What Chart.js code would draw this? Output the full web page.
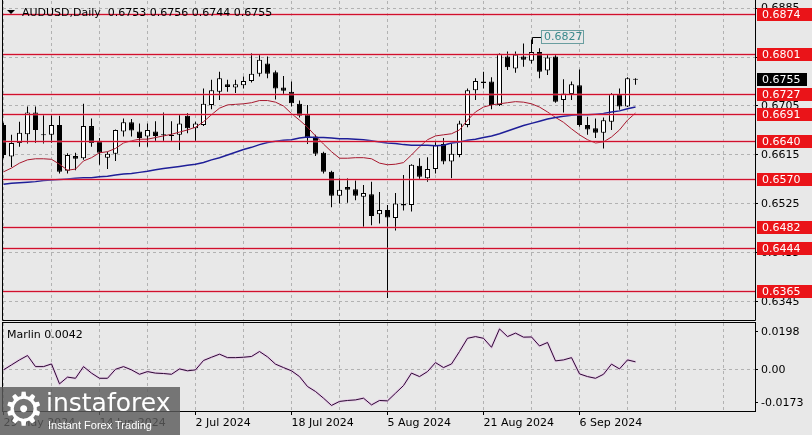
<!DOCTYPE html>
<html>
<head>
<meta charset="utf-8">
<script src="https://cdn.jsdelivr.net/npm/chart.js@4/dist/chart.umd.min.js"></script>
<style>
  html, body { margin: 0; padding: 0; background: #e8e8e8; }
  body { width: 812px; height: 435px; position: relative; overflow: hidden; font-family: "DejaVu Sans", sans-serif; }
  #priceChart { position: absolute; left: 0; top: 0; }
  #marlinChart { position: absolute; left: 0; top: 321px; }
  #logo { position: absolute; left: 0; top: 387px; width: 180px; height: 48px; background: rgba(92, 92, 92, 0.82); color: #fff; }
  #logo .gear { position: absolute; left: 3px; top: -4px; font: 46px/52px "DejaVu Sans"; }
  #logo .brand { position: absolute; left: 46px; top: 3px; font: 25px/25px "DejaVu Sans"; }
  #logo .tag { position: absolute; left: 48px; top: 32px; font: 11px/13px "Liberation Sans"; }
</style>
</head>
<body>
<canvas id="priceChart" width="812" height="321"></canvas>
<canvas id="marlinChart" width="812" height="114"></canvas>
<div id="logo"><span class="gear">⚙</span><span class="brand">instaforex</span><span class="tag">Instant Forex Trading</span></div>
<script>
const symbolTitle = 'AUDUSD,Daily';

const dates = ['29 May 2024','30 May 2024','31 May 2024','3 Jun 2024','4 Jun 2024','5 Jun 2024','6 Jun 2024','7 Jun 2024',
  '10 Jun 2024','11 Jun 2024','12 Jun 2024','13 Jun 2024','14 Jun 2024','17 Jun 2024','18 Jun 2024','19 Jun 2024','20 Jun 2024',
  '21 Jun 2024','24 Jun 2024','25 Jun 2024','26 Jun 2024','27 Jun 2024','28 Jun 2024','1 Jul 2024','2 Jul 2024','3 Jul 2024',
  '4 Jul 2024','5 Jul 2024','8 Jul 2024','9 Jul 2024','10 Jul 2024','11 Jul 2024','12 Jul 2024','15 Jul 2024','16 Jul 2024',
  '17 Jul 2024','18 Jul 2024','19 Jul 2024','22 Jul 2024','23 Jul 2024','24 Jul 2024','25 Jul 2024','26 Jul 2024','29 Jul 2024',
  '30 Jul 2024','31 Jul 2024','1 Aug 2024','2 Aug 2024','5 Aug 2024','6 Aug 2024','7 Aug 2024','8 Aug 2024','9 Aug 2024',
  '12 Aug 2024','13 Aug 2024','14 Aug 2024','15 Aug 2024','16 Aug 2024','19 Aug 2024','20 Aug 2024','21 Aug 2024','22 Aug 2024',
  '23 Aug 2024','26 Aug 2024','27 Aug 2024','28 Aug 2024','29 Aug 2024','30 Aug 2024','2 Sep 2024','3 Sep 2024','4 Sep 2024',
  '5 Sep 2024','6 Sep 2024','9 Sep 2024','10 Sep 2024','11 Sep 2024','12 Sep 2024','13 Sep 2024','16 Sep 2024','17 Sep 2024'];

const opens = [0.6670,0.6612,0.6637,0.6653,0.6693,0.6653,0.6652,0.6670,0.6586,0.6613,
  0.6609,0.6668,0.6641,0.6610,0.6617,0.6658,0.6675,0.6658,0.6649,0.6658,
  0.6652,0.6651,0.6652,0.6687,0.6664,0.6670,0.6707,0.6731,0.6745,0.6739,
  0.6743,0.6751,0.6764,0.6783,0.6767,0.6739,0.6731,0.6709,0.6690,0.6649,
  0.6619,0.6584,0.6540,0.6556,0.6552,0.6538,0.6543,0.6506,0.6514,0.6499,
  0.6525,0.6523,0.6595,0.6572,0.6589,0.6635,0.6603,0.6615,0.6670,0.6734,
  0.6750,0.6750,0.6707,0.6796,0.6774,0.6796,0.6788,0.6804,0.6770,0.6796,
  0.6716,0.6727,0.6743,0.6670,0.6664,0.6656,0.6676,0.6727,0.6704,0.6753];
const highs = [0.6674,0.6652,0.6676,0.6704,0.6704,0.6688,0.6688,0.6687,0.6618,0.6619,
  0.6709,0.6682,0.6646,0.6621,0.6662,0.6682,0.6681,0.6673,0.6673,0.6677,
  0.6693,0.6677,0.6690,0.6692,0.6676,0.6737,0.6753,0.6768,0.6753,0.6753,
  0.6759,0.6802,0.6799,0.6796,0.6770,0.6760,0.6750,0.6715,0.6707,0.6652,
  0.6621,0.6586,0.6572,0.6572,0.6568,0.6560,0.6566,0.6547,0.6523,0.6545,
  0.6578,0.6598,0.6609,0.6611,0.6639,0.6646,0.6636,0.6678,0.6737,0.6756,
  0.6768,0.6758,0.6802,0.6805,0.6805,0.6820,0.6827,0.6811,0.6799,0.6799,
  0.6754,0.6750,0.6772,0.6685,0.6682,0.6684,0.6729,0.6737,0.6758,0.6756];
const lows = [0.6609,0.6593,0.6630,0.6636,0.6637,0.6636,0.6637,0.6581,0.6581,0.6587,
  0.6606,0.6630,0.6597,0.6589,0.6604,0.6649,0.6649,0.6630,0.6630,0.6639,
  0.6639,0.6639,0.6624,0.6655,0.6639,0.6668,0.6699,0.6716,0.6731,0.6729,
  0.6737,0.6748,0.6759,0.6756,0.6717,0.6725,0.6704,0.6684,0.6635,0.6613,
  0.6581,0.6519,0.6526,0.6527,0.6532,0.6483,0.6486,0.6489,0.6352,0.6476,
  0.6513,0.6511,0.6570,0.6566,0.6581,0.6598,0.6572,0.6611,0.6666,0.6716,
  0.6737,0.6699,0.6705,0.6771,0.6766,0.6777,0.6783,0.6756,0.6762,0.6711,
  0.6693,0.6716,0.6667,0.6652,0.6646,0.6627,0.6661,0.6698,0.6703,0.6744];
const closes = [0.6615,0.6637,0.6656,0.6693,0.6661,0.6651,0.6670,0.6584,0.6615,0.6608,
  0.6668,0.6637,0.6619,0.6617,0.6661,0.6675,0.6660,0.6646,0.6661,0.6650,
  0.6651,0.6650,0.6673,0.6664,0.6673,0.6709,0.6734,0.6756,0.6740,0.6745,
  0.6751,0.6764,0.6790,0.6764,0.6737,0.6733,0.6710,0.6687,0.6647,0.6617,
  0.6584,0.6540,0.6551,0.6551,0.6540,0.6545,0.6503,0.6514,0.6500,0.6526,
  0.6522,0.6597,0.6575,0.6589,0.6633,0.6603,0.6617,0.6673,0.6734,0.6751,
  0.6747,0.6707,0.6801,0.6776,0.6799,0.6790,0.6804,0.6768,0.6794,0.6713,
  0.6728,0.6745,0.6670,0.6662,0.6656,0.6679,0.6727,0.6704,0.6756,0.6755];

// moving averages as drawn on the chart
const maFast = [0.6584,0.6591,0.6600,0.6606,0.6608,0.6608,0.6607,0.6598,0.6587,0.6589,
  0.6604,0.6610,0.6619,0.6621,0.6627,0.6637,0.6641,0.6644,0.6644,0.6647,
  0.6650,0.6653,0.6657,0.6661,0.6666,0.6676,0.6689,0.6701,0.6707,0.6708,
  0.6709,0.6711,0.6715,0.6715,0.6712,0.6705,0.6691,0.6679,0.6666,0.6650,
  0.6635,0.6621,0.6609,0.6609,0.6610,0.6610,0.6608,0.6600,0.6597,0.6598,
  0.6601,0.6615,0.6630,0.6643,0.6650,0.6652,0.6654,0.6661,0.6679,0.6694,
  0.6703,0.6707,0.6709,0.6711,0.6713,0.6712,0.6709,0.6703,0.6694,0.6684,
  0.6675,0.6663,0.6652,0.6643,0.6637,0.6639,0.6648,0.6661,0.6679,0.6692];
const maSlow = [0.6561,0.6563,0.6564,0.6565,0.6566,0.6568,0.6569,0.6570,0.6571,0.6572,
  0.6573,0.6573,0.6575,0.6576,0.6578,0.6580,0.6581,0.6583,0.6585,0.6588,
  0.6590,0.6592,0.6594,0.6596,0.6598,0.6601,0.6606,0.6610,0.6615,0.6620,
  0.6625,0.6629,0.6634,0.6638,0.6640,0.6642,0.6643,0.6646,0.6648,0.6647,
  0.6647,0.6646,0.6645,0.6645,0.6644,0.6643,0.6641,0.6639,0.6637,0.6636,
  0.6634,0.6633,0.6633,0.6633,0.6632,0.6633,0.6637,0.6639,0.6642,0.6644,
  0.6647,0.6650,0.6654,0.6659,0.6664,0.6669,0.6673,0.6677,0.6681,0.6684,
  0.6686,0.6688,0.6689,0.6689,0.6690,0.6691,0.6694,0.6696,0.6700,0.6703];

const marlin = [0.0000,0.0026,0.0052,0.0075,0.0017,0.0017,0.0031,-0.0073,-0.0038,-0.0044,
  0.0017,-0.0017,-0.0044,-0.0044,0.0003,0.0017,0.0000,-0.0023,-0.0009,-0.0017,
  -0.0019,-0.0023,0.0005,-0.0005,0.0000,0.0049,0.0066,0.0082,0.0064,0.0064,
  0.0066,0.0070,0.0096,0.0068,0.0030,0.0012,-0.0005,-0.0035,-0.0087,-0.0113,
  -0.0148,-0.0186,-0.0165,-0.0160,-0.0157,-0.0148,-0.0183,-0.0160,-0.0162,-0.0122,
  -0.0082,-0.0017,-0.0035,-0.0009,0.0038,0.0012,0.0031,0.0096,0.0165,0.0174,
  0.0165,0.0118,0.0214,0.0174,0.0192,0.0171,0.0172,0.0125,0.0143,0.0047,
  0.0052,0.0064,-0.0021,-0.0035,-0.0044,-0.0023,0.0030,0.0005,0.0052,0.0042];

const levels = [0.6874, 0.6801, 0.6727, 0.6691, 0.6640, 0.6570, 0.6482, 0.6444, 0.6365];
const priceTicks = [0.6885, 0.6795, 0.6705, 0.6615, 0.6525, 0.6435, 0.6345];
const marlinTicks = [0.0198, 0, -0.0173];
const peakIndex = 66;
const peakValue = 0.6827;

const FONT = '"DejaVu Sans", sans-serif';
const GRID = '#b2b2b2';
const X_MIN = -0.0625, X_MAX = 93.9375;
const gridIdx = [];
for (let v = 0; v <= 90; v += 6) gridIdx.push(v);

function dateLabel(v) {
    return (v % 12 === 0 && v < dates.length) ? dates[v] : '';
}

Chart.defaults.font.family = FONT;
Chart.defaults.font.size = 11;
Chart.defaults.color = '#000';

const bodies = dates.map((d, i) => ({ x: i, y: [opens[i], closes[i]] }));
const wicks = dates.map((d, i) => ({ x: i, y: [lows[i], highs[i]] }));
const bodyColors = dates.map((d, i) => closes[i] >= opens[i] ? '#ffffff' : '#000000');

const priceOverlay = {
    id: 'priceOverlay',
    afterDatasetsDraw(chart) {
        const { ctx, chartArea: a, scales: { y } } = chart;
        ctx.save();
        levels.forEach(v => {
            const py = Math.round(y.getPixelForValue(v)) + 0.5;
            // soft halo then the line itself
            ctx.strokeStyle = 'rgba(236,120,140,0.35)';
            ctx.lineWidth = 3;
            ctx.beginPath();
            ctx.moveTo(a.left, py);
            ctx.lineTo(a.right, py);
            ctx.stroke();
            ctx.strokeStyle = '#d0102c';
            ctx.lineWidth = 1;
            ctx.beginPath();
            ctx.moveTo(a.left, py);
            ctx.lineTo(a.right, py);
            ctx.stroke();
        });
        ctx.restore();
    },
    afterDraw(chart) {
        const { ctx, scales: { x, y } } = chart;
        ctx.save();
        // frame
        ctx.strokeStyle = '#000';
        ctx.lineWidth = 1;
        ctx.beginPath();
        ctx.moveTo(2.5, 0); ctx.lineTo(2.5, 320.5);
        ctx.lineTo(755.5, 320.5); ctx.lineTo(755.5, 0);
        ctx.stroke();

        // level price boxes
        ctx.font = '11px ' + FONT;
        ctx.textBaseline = 'middle';
        ctx.textAlign = 'left';
        levels.forEach(v => {
            const py = Math.round(y.getPixelForValue(v));
            ctx.fillStyle = '#ea1419';
            ctx.fillRect(757, py - 6, 55, 13);
            ctx.fillStyle = '#ffffff';
            ctx.fillText(v.toFixed(4), 762, py + 1);
        });
        // current price box
        const last = closes[closes.length - 1];
        const cy = Math.round(y.getPixelForValue(last));
        ctx.fillStyle = '#000';
        ctx.fillRect(757, cy - 6, 50, 13);
        ctx.fillStyle = '#fff';
        ctx.fillText(last.toFixed(4), 762, cy + 1);

        // header
        ctx.fillStyle = '#000';
        ctx.beginPath();
        ctx.moveTo(7, 10); ctx.lineTo(15, 10); ctx.lineTo(11, 14); ctx.closePath();
        ctx.fill();
        const n = opens.length - 1;
        ctx.fillText(symbolTitle + '  ' + [opens[n], highs[n], lows[n], closes[n]].map(v => v.toFixed(4)).join(' '), 22, 13);

        // peak label
        const px = Math.round(x.getPixelForValue(peakIndex)) + 0.5;
        const py = Math.round(y.getPixelForValue(peakValue));
        ctx.strokeStyle = '#000';
        ctx.beginPath();
        ctx.moveTo(px, py + 4); ctx.lineTo(px, 37.5); ctx.lineTo(541.5, 37.5);
        ctx.stroke();
        ctx.strokeStyle = '#6a9ea0';
        ctx.strokeRect(541.5, 30.5, 42, 13);
        ctx.fillStyle = '#3a8a8c';
        ctx.fillText(peakValue.toFixed(4), 544, 37.5);
        ctx.restore();
    }
};

new Chart(document.getElementById('priceChart'), {
    type: 'bar',
    data: {
        datasets: [
            { type: 'line', data: maSlow.map((v, i) => ({ x: i, y: v })), borderColor: '#1e1e98', borderWidth: 1.5,
              pointRadius: 0, tension: 0, order: 0 },
            { type: 'line', data: maFast.map((v, i) => ({ x: i, y: v })), borderColor: '#a8182e', borderWidth: 1,
              pointRadius: 0, tension: 0, order: 1 },
            { type: 'bar', data: bodies, backgroundColor: bodyColors, borderColor: '#000', borderWidth: 1,
              borderSkipped: false, barThickness: 5, grouped: false, minBarLength: 1, inflateAmount: 0, order: 2 },
            { type: 'bar', data: wicks, backgroundColor: '#000', borderWidth: 0,
              barThickness: 1, grouped: false, inflateAmount: 0, order: 3 }
        ]
    },
    options: {
        responsive: false,
        animation: false,
        devicePixelRatio: 1,
        layout: { padding: { left: 3, top: 1, right: 0, bottom: 0 } },
        plugins: { legend: { display: false }, tooltip: { enabled: false } },
        scales: {
            x: {
                type: 'linear', min: X_MIN, max: X_MAX, offset: false,
                afterBuildTicks: s => { s.ticks = gridIdx.map(v => ({ value: v })); },
                grid: { color: GRID, drawTicks: false, offset: false },
                border: { display: false, dash: [3, 3] },
                ticks: { display: false },
                afterFit: s => { s.height = 0; s.paddingLeft = 0; s.paddingRight = 0; }
            },
            y: {
                type: 'linear', position: 'right', min: 0.63099, max: 0.68979, stacked: false,
                afterBuildTicks: s => { s.ticks = priceTicks.map(v => ({ value: v })); },
                grid: { color: GRID, drawTicks: true, tickLength: 3, tickColor: '#000', tickBorderDash: [] },
                border: { display: false, dash: [3, 3] },
                ticks: { padding: 3, color: '#000', font: { family: FONT, size: 11 }, callback: v => v.toFixed(4) },
                afterFit: s => { s.width = 57; s.paddingTop = 0; s.paddingBottom = 0; }
            }
        }
    },
    plugins: [priceOverlay]
});

const marlinOverlay = {
    id: 'marlinOverlay',
    afterDraw(chart) {
        const { ctx } = chart;
        ctx.save();
        ctx.strokeStyle = '#000';
        ctx.lineWidth = 1;
        ctx.strokeRect(2.5, 1.5, 753, 89);
        ctx.font = '11px ' + FONT;
        ctx.textBaseline = 'middle';
        ctx.fillStyle = '#000';
        ctx.fillText('Marlin ' + marlin[marlin.length - 1].toFixed(4), 7, 14);
        ctx.restore();
    }
};

new Chart(document.getElementById('marlinChart'), {
    type: 'line',
    data: {
        datasets: [
            { data: marlin.map((v, i) => ({ x: i, y: v })), borderColor: '#2a0832', borderWidth: 1,
              pointRadius: 0, tension: 0, order: 0 },
            { data: marlin.map((v, i) => ({ x: i, y: v })), borderColor: 'rgba(232,180,232,0.55)', borderWidth: 2.5,
              pointRadius: 0, tension: 0, order: 1 }
        ]
    },
    options: {
        responsive: false,
        animation: false,
        devicePixelRatio: 1,
        layout: { padding: { left: 3, top: 2, right: 0, bottom: 0 } },
        plugins: { legend: { display: false }, tooltip: { enabled: false } },
        scales: {
            x: {
                type: 'linear', min: X_MIN, max: X_MAX, offset: false,
                afterBuildTicks: s => { s.ticks = gridIdx.map(v => ({ value: v })); },
                grid: {
                    color: GRID, offset: false, drawTicks: true, tickLength: 4, tickBorderDash: [],
                    tickColor: c => (c.tick && dateLabel(c.tick.value)) ? '#000' : 'rgba(0,0,0,0)'
                },
                border: { display: false, dash: [3, 3] },
                ticks: { autoSkip: false, maxRotation: 0, align: 'start', padding: 2, color: '#000',
                         font: { family: FONT, size: 11 }, callback: v => dateLabel(v) },
                afterFit: s => { s.height = 24; s.paddingLeft = 0; s.paddingRight = 0; }
            },
            y: {
                type: 'linear', position: 'right', min: -0.0215, max: 0.0245,
                afterBuildTicks: s => { s.ticks = marlinTicks.map(v => ({ value: v })); },
                grid: {
                    color: c => (c.tick && c.tick.value === 0) ? GRID : 'rgba(0,0,0,0)',
                    drawTicks: true, tickLength: 3, tickColor: '#000', tickBorderDash: []
                },
                border: { display: false, dash: [3, 3] },
                ticks: { padding: 3, color: '#000', font: { family: FONT, size: 11 },
                         callback: v => v === 0 ? '0.00' : v.toFixed(4) },
                afterFit: s => { s.width = 57; s.paddingTop = 0; s.paddingBottom = 0; }
            }
        }
    },
    plugins: [marlinOverlay]
});
</script>
</body>
</html>
